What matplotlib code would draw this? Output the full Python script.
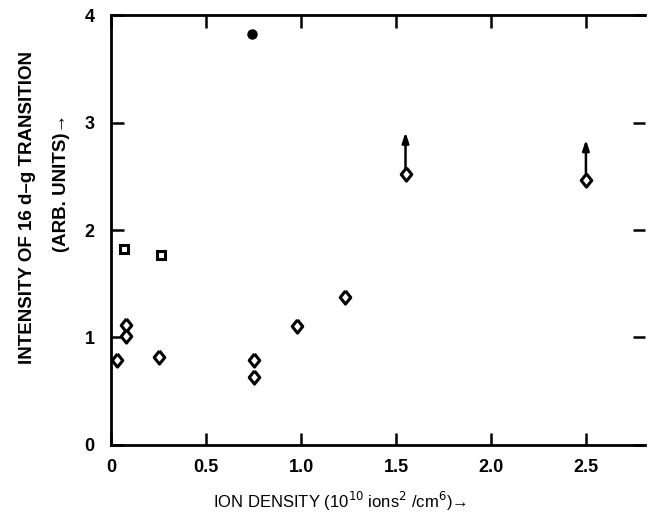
import matplotlib
matplotlib.use("Agg")
import matplotlib.pyplot as plt

plt.rcParams['font.family'] = ['Liberation Sans', 'DejaVu Sans']

# Data
diamond_x = [0.03, 0.08, 0.08, 0.25, 0.75, 0.75, 0.98, 1.23, 1.55, 2.50]
diamond_y = [0.79, 1.12, 1.01, 0.82, 0.79, 0.63, 1.11, 1.38, 2.52, 2.47]
square_x = [0.07, 0.26]
square_y = [1.82, 1.77]
filled_x = [0.74]
filled_y = [3.83]
# lower limits (arrows pointing upward)
arrow_x = [1.55, 2.50]
arrow_y0 = [2.58, 2.53]
arrow_y1 = [2.91, 2.84]

xticks = [0, 0.5, 1.0, 1.5, 2.0, 2.5]
xticklabels = ["0", "0.5", "1.0", "1.5", "2.0", "2.5"]
yticks = [0, 1, 2, 3, 4]
yticklabels = ["0", "1", "2", "3", "4"]

fig = plt.figure(figsize=(6.5, 5.27), dpi=100)
ax = fig.add_axes([0.171, 0.156, 0.821, 0.815])

for x, a, b in zip(arrow_x, arrow_y0, arrow_y1):
    ax.annotate("", xy=(x, b), xytext=(x, a),
                arrowprops=dict(arrowstyle="-|>,head_length=0.6,head_width=0.2",
                                color="black", lw=1.8, shrinkA=0, shrinkB=0))

diamond_shape = [(0, 1), (0.8, 0), (0, -1), (-0.8, 0), (0, 1)]
ax.plot(diamond_x, diamond_y, linestyle="none", marker=diamond_shape,
        markersize=9.5, markerfacecolor="white", markeredgecolor="black",
        markeredgewidth=2.2)
ax.plot(square_x, square_y, linestyle="none", marker="s", markersize=6,
        markerfacecolor="white", markeredgecolor="black", markeredgewidth=2.2)
ax.plot(filled_x, filled_y, linestyle="none", marker="o", markersize=6.5,
        color="black")

ax.set_xlim(0, 2.81)
ax.set_ylim(0, 4)
ax.set_xticks(xticks)
ax.set_xticklabels(xticklabels, fontweight="bold", fontsize=13)
ax.set_yticks(yticks)
ax.set_yticklabels(yticklabels, fontweight="bold", fontsize=13)
ax.tick_params(direction="in", length=9, width=1.8, top=True, right=True)
ax.tick_params(axis="x", pad=10)
ax.tick_params(axis="y", pad=12)
ax.spines["right"].set_visible(False)
for s in ["left", "bottom", "top"]:
    ax.spines[s].set_linewidth(2)

fig.text(0.043, 0.607, "INTENSITY OF 16 d–g TRANSITION", rotation=90,
         ha="center", va="center", fontweight="bold", fontsize=13.5)
fig.text(0.095, 0.653, "(ARB. UNITS)→", rotation=90,
         ha="center", va="center", fontweight="bold", fontsize=13.5)
fig.text(0.523, 0.049, "ION DENSITY (10$^{10}$ ions$^2$ /cm$^6$)→",
         ha="center", va="center", fontsize=12)

fig.savefig("out.png", dpi=100)
